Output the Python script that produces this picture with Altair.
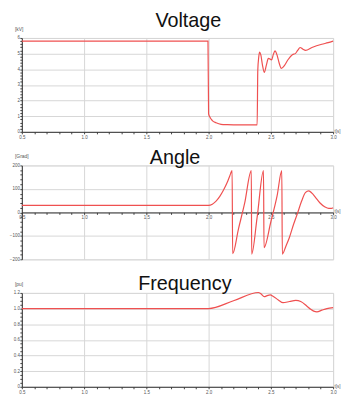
import altair as alt
import pandas as pd

# ---------------- data ----------------
titles = ["Voltage", "Angle", "Frequency"]
units = ["[kV]", "[Grad]", "[pu]"]
x_unit = "t[s]"

t_volt = [0.5, 1.0, 1.5, 1.995, 2.0, 2.01, 2.03, 2.06, 2.1, 2.15, 2.2, 2.3, 2.39, 2.395,
          2.403, 2.41, 2.42, 2.432, 2.447, 2.465, 2.48, 2.506, 2.52, 2.533, 2.55, 2.565,
          2.584, 2.61, 2.636, 2.675, 2.696, 2.715, 2.735, 2.755, 2.779, 2.83, 2.909, 2.96, 3.0]
volt = [5.8, 5.8, 5.8, 5.8, 1.15, 0.95, 0.72, 0.58, 0.48, 0.46, 0.45, 0.45, 0.45, 3.9,
        4.8, 5.1, 4.9, 4.3, 3.8, 4.3, 4.7, 4.6, 4.95, 5.17, 4.9, 4.45,
        4.06, 4.25, 4.59, 4.94, 5.0, 5.2, 5.39, 5.3, 5.21, 5.39, 5.6, 5.7, 5.8]

t_angle = [0.5, 1.0, 1.5, 2.0, 2.03, 2.06, 2.09, 2.12, 2.15, 2.17, 2.189, 2.193, 2.24, 2.29,
           2.343, 2.346, 2.39, 2.441, 2.445, 2.5, 2.55, 2.588, 2.592, 2.62, 2.649, 2.68,
           2.714, 2.745, 2.779, 2.805, 2.83, 2.857, 2.895, 2.935, 2.965, 2.987, 3.0]
angle = [30, 30, 30, 30, 35, 48, 68, 95, 128, 155, 178, -176, -70, 40,
         178, -178, -20, 178, -150, -40, 70, 178, -178, -145, -107, -55,
         -4, 45, 85, 92, 82, 65, 40, 23, 17, 17, 20]

t_freq = [0.5, 1.0, 1.5, 2.0, 2.2, 2.4, 2.42, 2.447, 2.47, 2.494, 2.52, 2.56, 2.598,
          2.65, 2.70, 2.74, 2.79, 2.82, 2.844, 2.87, 2.91, 2.95, 3.0]
freq = [1.0, 1.0, 1.0, 1.0, 1.1, 1.205, 1.19, 1.152, 1.165, 1.175, 1.155, 1.11, 1.075,
        1.09, 1.104, 1.09, 1.03, 0.99, 0.967, 0.958, 0.98, 1.0, 1.013]

x_ticks = [round(0.5 + 0.1 * i, 1) for i in range(26)]
v_ticks = [round(0.2 * i, 1) for i in range(31)]
a_ticks = [-200 + 20 * i for i in range(21)]
f_ticks = [round(0.05 * i, 2) for i in range(25)]

W, H = 315, 95
LINE = "#ef5050"
GRID = "#d6d6d6"
FONT = "Liberation Sans"
SMALL = "#555"
PAD = {"left": 0, "top": 0, "right": 0, "bottom": 0}


def major(step):
    return f"abs(datum.value/{step} - round(datum.value/{step})) < 0.001"


def x_axis(offset=0):
    return alt.Axis(
        values=x_ticks,
        labelExpr=f"{major(0.5)} ? format(datum.value, '.1f') : ''",
        gridOpacity={"condition": {"test": major(0.5), "value": 1}, "value": 0},
        gridColor=GRID,
        tickSize=2,
        tickColor="#444",
        domainColor="#333",
        labelFontSize=4.5,
        labelColor=SMALL,
        labelPadding=0.5,
        labelFlush=False,
        title=None,
        offset=offset,
    )


def y_axis(vals, step, fmt):
    return alt.Axis(
        values=vals,
        labelExpr=f"{major(step)} ? {fmt} : ''",
        gridOpacity={"condition": {"test": major(step), "value": 1}, "value": 0},
        gridColor=GRID,
        tickSize=2,
        tickColor="#444",
        domainColor="#333",
        labelFontSize=4.5,
        labelColor=SMALL,
        labelPadding=0.5,
        labelFlush=False,
        title=None,
    )


def panel(t, y, name, unit, ydomain, yaxis, xoff, tdx, tdy):
    df = pd.DataFrame({"t": t, "v": y, "i": list(range(len(t)))})
    line = alt.Chart(df).mark_line(color=LINE, strokeWidth=1.2, interpolate="monotone").encode(
        x=alt.X("t:Q", scale=alt.Scale(domain=[0.5, 3.0], nice=False), axis=x_axis(xoff)),
        y=alt.Y("v:Q", scale=alt.Scale(domain=ydomain, nice=False), axis=yaxis),
        order="i:Q",
    )
    lab = pd.DataFrame({"name": [name], "unit": [unit], "xu": [x_unit]})
    head = alt.Chart(lab).mark_text(
        font=FONT, fontSize=20, color="#111", align="center", baseline="top",
        dx=tdx, dy=tdy,
    ).encode(x=alt.value(W / 2), y=alt.value(0), text="name:N")
    yunit = alt.Chart(lab).mark_text(
        font=FONT, fontSize=5, color=SMALL, align="left", baseline="middle",
    ).encode(x=alt.value(-7), y=alt.value(-9.5), text="unit:N")
    xunit = alt.Chart(lab).mark_text(
        font=FONT, fontSize=4.5, color=SMALL, align="left", baseline="middle",
    ).encode(x=alt.value(W + 1.5), y=alt.value(H + xoff), text="xu:N")
    return alt.layer(line, head, yunit, xunit).properties(width=W, height=H)


p1 = panel(t_volt, volt, titles[0], units[0], [0, 6],
           y_axis(v_ticks, 1, "format(datum.value, 'd')"), 0, 11, -27.5)
p2 = panel(t_angle, angle, titles[1], units[1], [-200, 200],
           y_axis(a_ticks, 100, "format(datum.value, 'd')"), -H / 2, -2.5, -17)
p3 = panel(t_freq, freq, titles[2], units[2], [0, 1.2],
           y_axis(f_ticks, 0.2, "(datum.value == 0 ? '0' : format(datum.value, '.1f'))"),
           0, 7.5, -19)

chart = alt.vconcat(p1, p2, p3, spacing=34, bounds="flush", padding=PAD).configure_view(
    stroke="transparent"
).configure_axis(
    labelFont=FONT
).configure(background="white", padding=PAD)

chart.save("out.html", embed_options={"renderer": "svg", "actions": False})
